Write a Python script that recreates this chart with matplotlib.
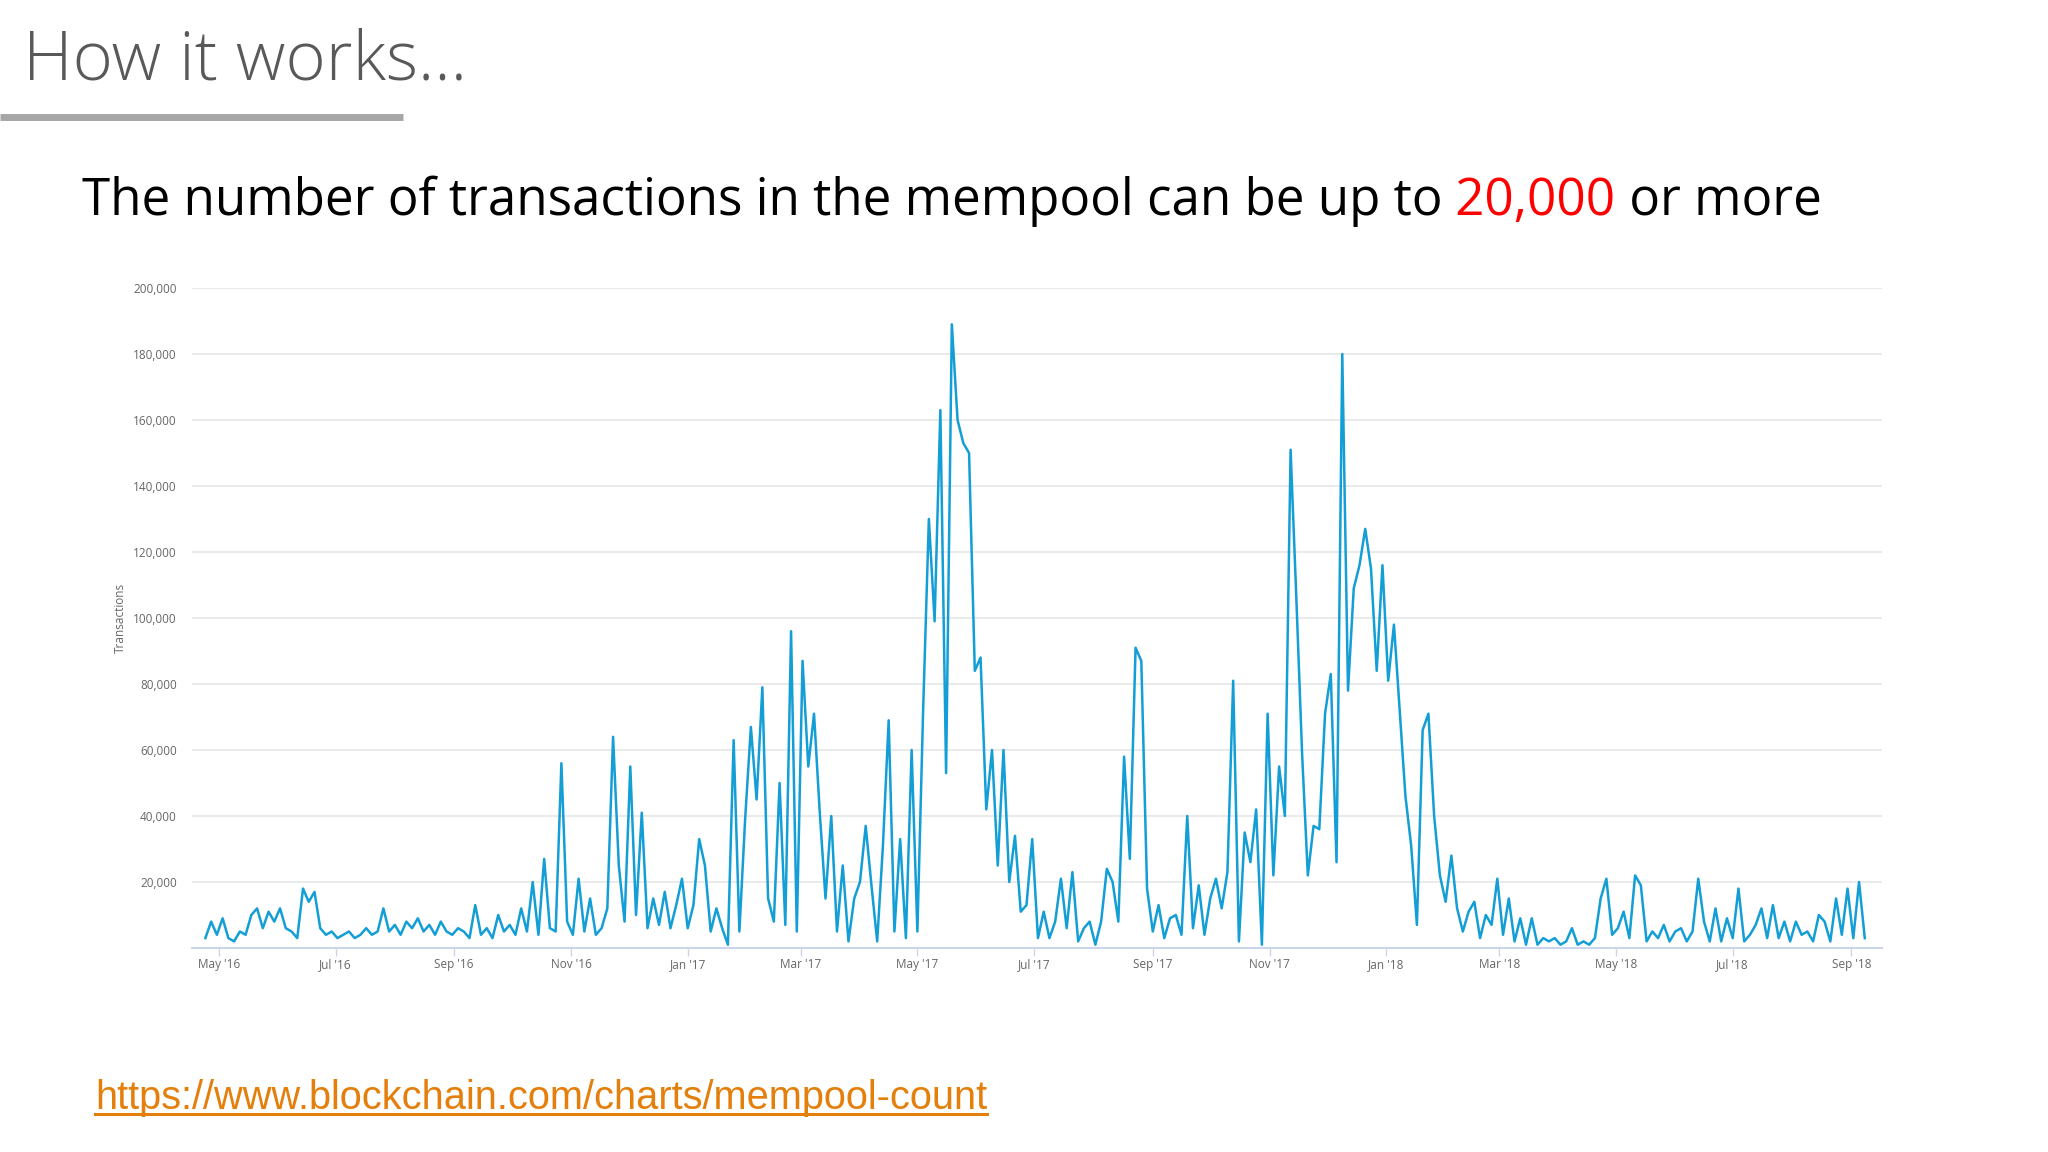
import pandas as pd
import matplotlib.pyplot as plt
import matplotlib.dates as mdates
from matplotlib.ticker import FuncFormatter
from matplotlib.lines import Line2D

# Mempool size, one sample every 3 days from 24 Apr 2016 (thousands of tx)
abr_jun_2016 = [3, 8, 4, 9, 3, 2, 5, 4, 10, 12, 6, 11, 8, 12, 6, 5, 3, 18, 14, 17, 6, 4, 5, 3]
jul_ago_2016 = [4, 5, 3, 4, 6, 4, 5, 12, 5, 7, 4, 8, 6, 9, 5, 7, 4, 8, 5, 4, 6]
sep_oct_2016 = [5, 3, 13, 4, 6, 3, 10, 5, 7, 4, 12, 5, 20, 4, 27, 6, 5, 56, 8, 4]
nov_2016_feb_2017 = [21, 5, 15, 4, 6, 12, 64, 25, 8, 55, 10, 41, 6, 15, 7, 17, 6, 13, 21, 6,
                     13, 33, 25, 5, 12, 6, 1, 63, 5, 39, 67, 45, 79, 15, 8, 50, 7, 96, 5, 87,
                     55, 71, 41, 15, 40, 5]
mar_abr_2017 = [25, 2, 15, 20, 37, 19, 2, 31, 69, 5, 33, 3, 60, 5]
may_jun_2017 = [72, 130, 99, 163, 53, 189, 160, 153, 150, 84, 88, 42, 60, 25, 60, 20]
jul_ago_2017 = [34, 11, 13, 33, 3, 11, 3, 8, 21, 6, 23, 2, 6, 8, 1, 8, 24, 20, 8, 58]
sep_oct_2017 = [27, 91, 87, 18, 5, 13, 3, 9, 10, 4, 40, 6, 19, 4, 15, 21, 12, 23, 81, 2,
                35, 26, 42, 1, 71, 22, 55, 40]
nov_2017_ene_2018 = [151, 106, 59, 22, 37, 36, 71, 83, 26, 180, 78, 109, 116, 127, 115, 84,
                     116, 81, 98, 72, 46, 31, 7, 66, 71, 40, 22, 14, 28, 12]
feb_sep_2018 = [5, 11, 14, 3, 10, 7, 21, 4, 15, 2, 9, 1, 9, 1, 3, 2, 3, 1, 2, 6,
                1, 2, 1, 3, 15, 21, 4, 6, 11, 3, 22, 19, 2, 5, 3, 7, 2, 5, 6, 2,
                5, 21, 8, 2, 12, 2, 9, 3, 18, 2, 4, 7, 12, 3, 13, 3, 8, 2, 8, 4,
                5, 2, 10, 8, 2, 15, 4, 18, 3, 20, 3]

valores = (abr_jun_2016 + jul_ago_2016 + sep_oct_2016 + nov_2016_feb_2017 + mar_abr_2017 +
           may_jun_2017 + jul_ago_2017 + sep_oct_2017 + nov_2017_ene_2018 + feb_sep_2018)
fechas = pd.date_range('2016-04-24', periods=len(valores), freq='3D')
transacciones = [v * 1000 for v in valores]

y_ticks = list(range(20000, 200001, 20000))

W, H = 2048, 1152
fig = plt.figure(figsize=(W / 100, H / 100), dpi=100, facecolor='white')

# Slide header
fig.text(23 / W, 1 - 79 / H, 'How it works...', family='Open Sans', weight='light',
         fontsize=49.5, color='#595959', va='baseline', ha='left')
fig.add_artist(Line2D([0, 403 / W], [1 - 117 / H, 1 - 117 / H], color='#a6a6a6', lw=5,
                      solid_capstyle='butt'))

# Subtitle with the red number
r = fig.canvas.get_renderer()
y_sub = 1 - 215 / H
fs_sub = 36.8
t1 = fig.text(82 / W, y_sub, 'The number of transactions in the mempool can be up to',
              family='Open Sans', fontsize=fs_sub, color='black', va='baseline')
bb = t1.get_window_extent(renderer=r)
t2 = fig.text(bb.x1 / W, y_sub, '\u00a020,000', family='Open Sans', fontsize=fs_sub,
              color='#ff0000', va='baseline')
bb = t2.get_window_extent(renderer=r)
fig.text(bb.x1 / W, y_sub, '\u00a0or more', family='Open Sans', fontsize=fs_sub,
         color='black', va='baseline')

# Chart
ax = fig.add_axes([192 / W, 1 - 948 / H, 1690 / W, 660 / H])
ax.plot(fechas, transacciones, color='#139ed6', lw=1.8)
ax.set_ylim(0, 200000)
ax.set_xlim(pd.Timestamp('2016-04-17'), pd.Timestamp('2018-09-17'))
ax.set_yticks(y_ticks)
ax.yaxis.set_major_formatter(FuncFormatter(lambda v, p: f'{int(v):,}'))
ax.xaxis.set_major_locator(mdates.MonthLocator(bymonth=[1, 3, 5, 7, 9, 11]))
ax.xaxis.set_major_formatter(mdates.DateFormatter("%b '%y"))
ax.grid(axis='y', color='#e6e6e6', lw=1.2)
ax.set_axisbelow(True)
for s in ['top', 'right', 'left']:
    ax.spines[s].set_visible(False)
ax.spines['bottom'].set_color('#ccd6eb')
ax.spines['bottom'].set_linewidth(1.5)
ax.tick_params(axis='y', length=0, pad=11, labelsize=8.5, labelcolor='#666666')
ax.tick_params(axis='x', length=6, width=1, color='#ccd6eb', pad=1, labelsize=8.5,
               labelcolor='#666666')
for lab in ax.get_xticklabels() + ax.get_yticklabels():
    lab.set_family('Open Sans')
ax.set_ylabel('Transactions', family='Open Sans', fontsize=8.5, color='#666666')
ax.yaxis.set_label_coords(-0.0385, 0.5)

# Source link
url = fig.text(95 / W, 1 - 1109 / H, 'https://www.blockchain.com/charts/mempool-count',
               family='Liberation Sans', fontsize=28.6, color='#e47f0c', va='baseline')
bb = url.get_window_extent(renderer=r)
fig.add_artist(Line2D([bb.x0 / W, bb.x1 / W], [1 - 1114 / H, 1 - 1114 / H],
                      color='#e47f0c', lw=2.2))

fig.savefig('out.png', dpi=100)
